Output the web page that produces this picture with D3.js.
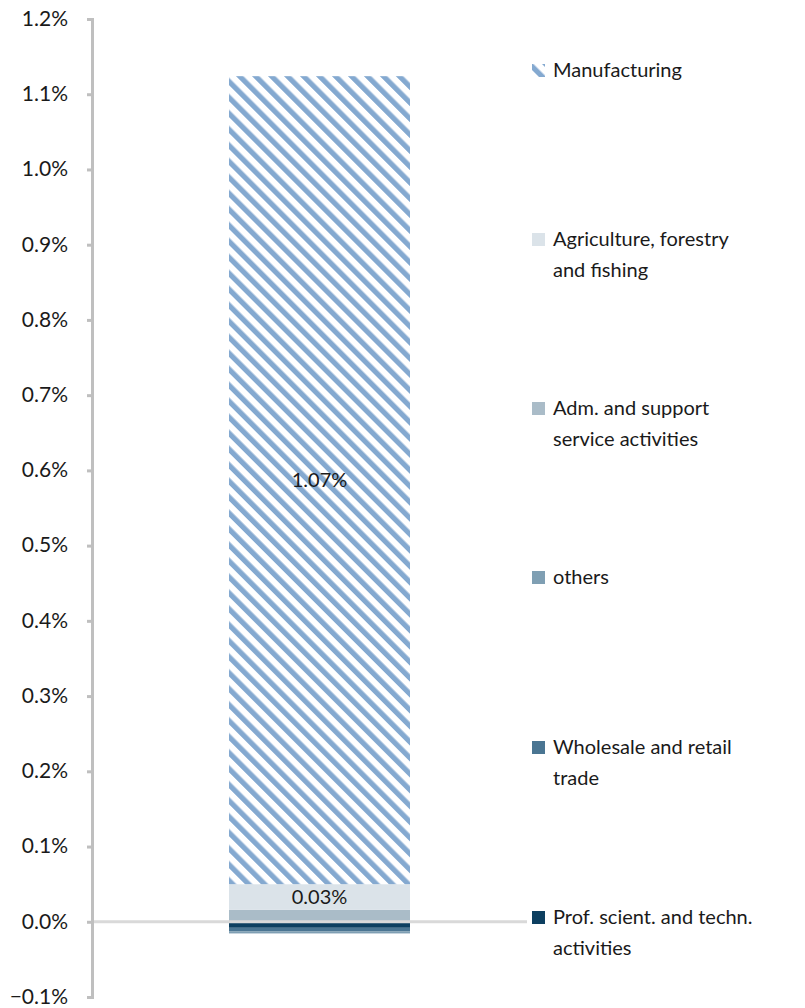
<!DOCTYPE html>
<html>
<head>
<meta charset="utf-8">
<script src="https://cdn.jsdelivr.net/npm/d3@7"></script>
<style>
body { margin: 0; background: #fff; }
text { font-family: Lato, "Open Sans", sans-serif; fill: #1a1a1a; }
</style>
</head>
<body>
<div id="chart"></div>
<script>
// data (values in %)
const categories = ["Total"];
const seriesNames = [
  "Prof. scient. and techn. activities",
  "Wholesale and retail trade",
  "others",
  "Adm. and support service activities",
  "Agriculture, forestry and fishing",
  "Manufacturing"
];
const seriesValues = [-0.008, -0.0045, -0.003, 0.016, 0.034, 1.074];
const seriesColors = ["#0d3f60", "#4a7592", "#7f9fb3", "#aabcc8", "#dbe3e9", "url(#hatch)"];
const labelled = ["Agriculture, forestry and fishing", "Manufacturing"];
const legendLines = [
  ["Prof. scient. and techn.", "activities"],
  ["Wholesale and retail", "trade"],
  ["others"],
  ["Adm. and support", "service activities"],
  ["Agriculture, forestry", "and fishing"],
  ["Manufacturing"]
];
const yTicks = [-0.1, 0, 0.1, 0.2, 0.3, 0.4, 0.5, 0.6, 0.7, 0.8, 0.9, 1.0, 1.1, 1.2];

const W = 805, H = 1008;
const svg = d3.select("#chart").append("svg")
  .attr("width", W).attr("height", H);

// hatch pattern for Manufacturing
const defs = svg.append("defs");
const pat = defs.append("pattern")
  .attr("id", "hatch")
  .attr("patternUnits", "userSpaceOnUse")
  .attr("width", 11.3).attr("height", 11.3)
  .attr("patternTransform", "rotate(-45)");
pat.append("rect").attr("width", 11.3).attr("height", 11.3).attr("fill", "#fff");
pat.append("rect").attr("width", 5.2).attr("height", 11.3).attr("fill", "#84a9d0");

const row = {cat: categories[0]};
seriesNames.forEach((s, i) => row[s] = seriesValues[i]);
const stacked = d3.stack().keys(seriesNames).offset(d3.stackOffsetDiverging)([row]);

const y = d3.scaleLinear().domain([-0.1, 1.2]).range([997, 19]);

// bars
const bw = 181, bx = 229;
svg.append("g").selectAll("rect")
  .data(stacked)
  .join("rect")
  .attr("x", bx)
  .attr("width", bw)
  .attr("y", d => y(d[0][1]))
  .attr("height", d => y(d[0][0]) - y(d[0][1]))
  .attr("fill", (d, i) => seriesColors[i]);

// zero line
svg.append("line")
  .attr("x1", 92).attr("x2", 527)
  .attr("y1", y(0)).attr("y2", y(0))
  .attr("stroke", "#d9d9d9").attr("stroke-width", 3);

// data labels
svg.append("g").selectAll("text")
  .data(stacked.filter(d => labelled.includes(d.key)))
  .join("text")
  .attr("x", bx + bw / 2)
  .attr("y", d => (y(d[0][0]) + y(d[0][1])) / 2)
  .attr("dy", "0.35em")
  .attr("text-anchor", "middle")
  .style("font-size", "20px")
  .text(d => d3.format(".2f")(d[0][1] - d[0][0]) + "%");

// y axis
const yAxis = svg.append("g")
  .attr("transform", "translate(92,0)")
  .call(d3.axisLeft(y).tickValues(yTicks).tickSize(5).tickPadding(19)
    .tickFormat(d => d3.format(".1f")(d) + "%"));
yAxis.select(".domain").attr("stroke", "#bfbfbf").attr("stroke-width", 3);
yAxis.selectAll(".tick line").attr("stroke", "#bfbfbf").attr("stroke-width", 3);
yAxis.selectAll(".tick text").style("font-size", "21px").style("font-family", "Lato, sans-serif")
  .attr("fill", "#1a1a1a").attr("dy", "0.3em");

// legend (reverse order, top to bottom)
const legendY = [70, 239, 408, 577, 747, 917];
const leg = svg.append("g").selectAll("g")
  .data(seriesNames.map((s, i) => ({name: s, i})).reverse())
  .join("g")
  .attr("transform", (d, k) => `translate(532,${legendY[k]})`);
leg.append("rect")
  .attr("x", 0).attr("y", -6).attr("width", 13).attr("height", 13)
  .attr("fill", d => seriesColors[d.i]);
leg.append("text")
  .attr("x", 21)
  .style("font-size", "20px")
  .selectAll("tspan")
  .data(d => legendLines[d.i])
  .join("tspan")
  .attr("x", 21)
  .attr("y", (t, j) => j * 31)
  .attr("dy", "0.35em")
  .text(t => t);
</script>
</body>
</html>
